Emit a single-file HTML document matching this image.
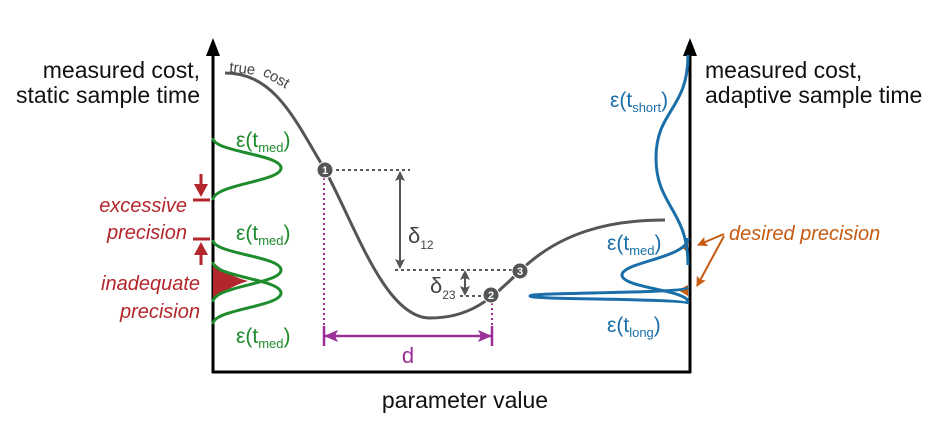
<!DOCTYPE html>
<html><head><meta charset="utf-8"><style>
html,body{margin:0;padding:0;background:#fff;}
svg{display:block;}
text{font-family:"Liberation Sans",sans-serif;}
</style></head><body>
<svg width="947" height="431" viewBox="0 0 947 431" xmlns="http://www.w3.org/2000/svg">
<defs>
<marker id="ag" markerWidth="10" markerHeight="10" refX="8" refY="5" orient="auto-start-reverse" markerUnits="userSpaceOnUse"><path d="M0,0 L10,5 L0,10 L2,5 Z" fill="#555"/></marker>
<marker id="ap" markerWidth="14" markerHeight="12" refX="13" refY="6" orient="auto-start-reverse" markerUnits="userSpaceOnUse"><path d="M0,0 L14,6 L0,12 L3,6 Z" fill="#9b2f96"/></marker>
<marker id="ao" markerWidth="10" markerHeight="10" refX="9" refY="5" orient="auto" markerUnits="userSpaceOnUse"><path d="M0,0 L10,5 L0,10 L2,5 Z" fill="#c55a11"/></marker>
</defs>
<!-- axes -->
<line x1="213" y1="50" x2="213" y2="373" stroke="#000" stroke-width="3"/>
<path d="M206,56 L213,38 L220,56 Z" fill="#000"/>
<line x1="690" y1="50" x2="690" y2="373" stroke="#000" stroke-width="3"/>
<path d="M683,56 L690,38 L697,56 Z" fill="#000"/>
<line x1="212" y1="372" x2="691" y2="372" stroke="#000" stroke-width="3"/>

<!-- labels -->
<text x="200" y="78" font-size="23" text-anchor="end" fill="#111">measured cost,</text>
<text x="200" y="103" font-size="23" text-anchor="end" fill="#111">static sample time</text>
<text x="705" y="78" font-size="23" fill="#111">measured cost,</text>
<text x="705" y="103" font-size="23" fill="#111">adaptive sample time</text>
<text x="465" y="408" font-size="23" text-anchor="middle" fill="#111">parameter value</text>

<!-- true cost -->
<path d="M225,73 C275,73 295,120 325,170 C355,225 385,318 430,318 C470,318 490,300 520,271 C560,232 610,220 665,220" fill="none" stroke="#555" stroke-width="3"/>
<text font-size="15" fill="#444" transform="translate(229,72) rotate(6)">true</text>
<text font-size="15" fill="#444" transform="translate(262,75) rotate(30)">cost</text>

<!-- dotted lines -->
<g stroke="#222" stroke-width="1.6" stroke-dasharray="3,3">
<line x1="330" y1="170" x2="410" y2="170"/>
<line x1="395" y1="270" x2="520" y2="270"/>
<line x1="460" y1="296" x2="488" y2="296"/>
</g>
<g stroke="#9b2f96" stroke-width="2" stroke-dasharray="2,3">
<line x1="324" y1="178" x2="324" y2="330"/>
<line x1="492" y1="303" x2="492" y2="330"/>
</g>
<line x1="324" y1="326" x2="324" y2="346" stroke="#9b2f96" stroke-width="2.5"/>
<line x1="492" y1="326" x2="492" y2="346" stroke="#9b2f96" stroke-width="2.5"/>
<line x1="325" y1="336" x2="491" y2="336" stroke="#9b2f96" stroke-width="2.5" marker-start="url(#ap)" marker-end="url(#ap)"/>
<text x="408" y="363" font-size="22" fill="#9b2f96" text-anchor="middle">d</text>

<!-- delta arrows -->
<line x1="400" y1="173" x2="400" y2="267" stroke="#555" stroke-width="2" marker-start="url(#ag)" marker-end="url(#ag)"/>
<text x="408" y="243" font-size="22" fill="#444">δ<tspan font-size="12" dy="6">12</tspan></text>
<line x1="465" y1="272" x2="465" y2="294" stroke="#555" stroke-width="2" marker-start="url(#ag)" marker-end="url(#ag)"/>
<text x="430" y="293" font-size="22" fill="#444">δ<tspan font-size="12" dy="6">23</tspan></text>

<!-- points -->
<g font-size="11" font-weight="bold" fill="#fff" text-anchor="middle">
<circle cx="325" cy="170" r="8" fill="#555" stroke="#fff" stroke-width="1"/><text x="325" y="174">1</text>
<circle cx="491" cy="295" r="8" fill="#555" stroke="#fff" stroke-width="1"/><text x="491" y="299">2</text>
<circle cx="520" cy="271" r="8" fill="#555" stroke="#fff" stroke-width="1"/><text x="520" y="275">3</text>
</g>

<!-- green gaussians -->
<path d="M213,262 Q228,276 248,281 Q228,287 213,300 Z" fill="#b3262c"/>
<g fill="none" stroke="#1e8c2c" stroke-width="3">
<path d="M213,138 C213,152 281,154 281,168 C281,182 213,184 213,200"/>
<path d="M213,240 C213,254 281,256 281,270 C281,284 213,286 213,302"/>
<path d="M213,262 C213,277 281,279 281,293 C281,307 213,309 213,324"/>
</g>
<g font-size="21" fill="#1e8c2c">
<text x="236" y="147">ε(t<tspan font-size="13" dy="5">med</tspan><tspan dy="-5">)</tspan></text>
<text x="236" y="240">ε(t<tspan font-size="13" dy="5">med</tspan><tspan dy="-5">)</tspan></text>
<text x="236" y="343">ε(t<tspan font-size="13" dy="5">med</tspan><tspan dy="-5">)</tspan></text>
</g>

<!-- red annotations -->
<g stroke="#b3262c" stroke-width="3">
<line x1="193" y1="200" x2="210" y2="200"/>
<line x1="193" y1="239" x2="210" y2="239"/>
<line x1="201" y1="174" x2="201" y2="190"/>
<line x1="201" y1="250" x2="201" y2="265"/>
</g>
<path d="M194,184 L208,184 L201,197 Z" fill="#b3262c"/>
<path d="M194,255 L208,255 L201,242 Z" fill="#b3262c"/>
<g font-size="20" font-style="italic" fill="#b3262c" text-anchor="end">
<text x="187" y="212">excessive</text>
<text x="187" y="239">precision</text>
<text x="200" y="290">inadequate</text>
<text x="200" y="318">precision</text>
</g>

<!-- blue gaussians -->
<path d="M688,238 L682,248 L688,252 Z" fill="#c55a11"/>
<path d="M688,285 L678,290 L688,296 Z" fill="#c55a11"/>
<g fill="none" stroke="#1a6fa8" stroke-width="3">
<path d="M688,55 C688,110 656,110 656,158 C656,206 688,210 688,265"/>
<path d="M688,238 C688,258 622,262 622,275 C622,288 688,290 688,302"/>
<path d="M688,287 C688,294 530,292 530,296 C530,300 688,298 688,304"/>
</g>
<g font-size="21" fill="#1a6fa8">
<text x="610" y="107">ε(t<tspan font-size="13" dy="5">short</tspan><tspan dy="-5">)</tspan></text>
<text x="607" y="250">ε(t<tspan font-size="13" dy="5">med</tspan><tspan dy="-5">)</tspan></text>
<text x="607" y="332">ε(t<tspan font-size="13" dy="5">long</tspan><tspan dy="-5">)</tspan></text>
</g>
<text x="729" y="240" font-size="20" font-style="italic" fill="#c55a11">desired precision</text>
<line x1="724" y1="234" x2="698" y2="245" stroke="#c55a11" stroke-width="2" marker-end="url(#ao)"/>
<line x1="724" y1="236" x2="697" y2="286" stroke="#c55a11" stroke-width="2" marker-end="url(#ao)"/>
</svg>
</body></html>
